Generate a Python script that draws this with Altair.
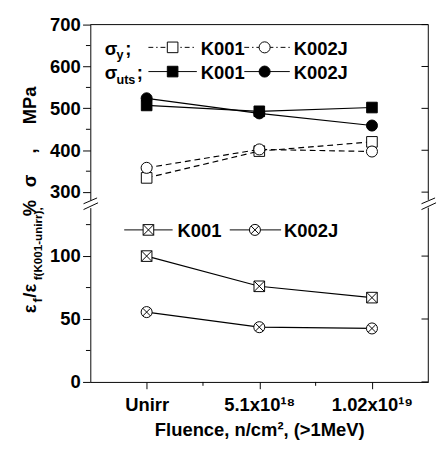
import json
import altair as alt
import pandas as pd

# ---------------- data ----------------
categories = ["Unirr", "5.1x10¹⁸", "1.02x10¹⁹"]
sy_K001 = [334, 398, 420]      # yield stress, MPa
sy_K002J = [358, 402, 397]
suts_K001 = [507, 493, 502]    # ultimate tensile stress, MPa
suts_K002J = [524, 488, 459]
el_K001 = [100, 76, 67]        # relative elongation, %
el_K002J = [55.5, 43.5, 42.5]

top_ticks = [300, 400, 500, 600, 700]
top_minor = [350, 450, 550, 650]
bot_ticks = [0, 50, 100]
bot_minor = [25, 75, 125]
x_minor = [1.5, 2.5]

# ---------------- style / layout ----------------
FONT = "Liberation Sans"
W, HT, HB = 349, 181, 180
TOP_DOM = [281.5, 700]
BOT_DOM = [0, 138.5]
X_DOM = [0.5, 3.5]
pos = list(range(1, len(categories) + 1))
one = pd.DataFrame({"a": [0]})

BOXX = "M-1,-1L1,-1L1,1L-1,1Z M-1,-1L1,1 M1,-1L-1,1"
CIRX = ("M1,0A1,1,0,1,1,-1,0A1,1,0,1,1,1,0Z "
        "M-0.707,-0.707L0.707,0.707 M0.707,-0.707L-0.707,0.707")


def df(vals):
    return pd.DataFrame({"pos": pos, "value": vals})


def txt(s, x, y, size=19, angle=None, align="left", baseline="alphabetic"):
    kw = dict(font=FONT, fontWeight="bold", fontSize=size, align=align,
              baseline=baseline, color="black")
    if angle is not None:
        kw["angle"] = angle
    return alt.Chart(one).mark_text(**kw).encode(
        x=alt.value(x), y=alt.value(y), text=alt.value(s))


def seg(x1, y1, x2, y2, dash=None, w=1):
    kw = dict(color="black", strokeWidth=w)
    if dash:
        kw["strokeDash"] = dash
    return alt.Chart(one).mark_rule(**kw).encode(
        x=alt.value(x1), y=alt.value(y1), x2=alt.value(x2), y2=alt.value(y2))


def sym(x, y, shape, fill, size=120):
    return alt.Chart(one).mark_point(
        shape=shape, size=size, filled=True, fill=fill, stroke="black",
        strokeWidth=1, opacity=1, fillOpacity=1).encode(x=alt.value(x), y=alt.value(y))


def pts(vals, x, y, shape, fill, size=120):
    return alt.Chart(df(vals)).mark_point(
        shape=shape, size=size, filled=True, fill=fill, stroke="black",
        strokeWidth=1, opacity=1, fillOpacity=1).encode(x=x, y=y)


def line(vals, x, y, dash=None):
    kw = dict(color="black", strokeWidth=1.2)
    if dash:
        kw["strokeDash"] = dash
    return alt.Chart(df(vals)).mark_line(**kw).encode(x=x, y=y)


x_noaxis = alt.X("pos:Q", scale=alt.Scale(domain=X_DOM, nice=False, zero=False), axis=None)
label_expr = json.dumps(categories, ensure_ascii=False) + "[datum.value - 1]"
x_axis = alt.X("pos:Q", scale=alt.Scale(domain=X_DOM, nice=False, zero=False),
               axis=alt.Axis(values=pos, labelExpr=label_expr, tickSize=7, labelPadding=8,
                             labelOverlap=False, labelFlush=False,
                             title="Fluence, n/cm², (>1MeV)", titlePadding=6))

y_top = alt.Y("value:Q", scale=alt.Scale(domain=TOP_DOM, nice=False, zero=False),
              axis=alt.Axis(values=top_ticks, tickSize=8, labelPadding=2.5, title=None))
y_bot = alt.Y("value:Q", scale=alt.Scale(domain=BOT_DOM, nice=False, zero=False),
              axis=alt.Axis(values=bot_ticks, tickSize=8, labelPadding=2.5, title=None))

DASH = [6, 4]
LDASH = [5, 3, 1.5, 3]

# ---------------- top panel: stresses ----------------
top_layers = [
    line(sy_K001, x_noaxis, y_top, DASH),
    line(sy_K002J, x_noaxis, y_top, DASH),
    line(suts_K001, x_noaxis, y_top),
    line(suts_K002J, x_noaxis, y_top),
    pts(sy_K001, x_noaxis, y_top, "square", "white"),
    pts(suts_K001, x_noaxis, y_top, "square", "black"),
    pts(sy_K002J, x_noaxis, y_top, "circle", "white", 130),
    pts(suts_K002J, x_noaxis, y_top, "circle", "black", 130),
    alt.Chart(pd.DataFrame({"value": top_minor})).mark_rule(color="black").encode(
        y=y_top, x=alt.value(-4.5), x2=alt.value(0)),
    alt.Chart(pd.DataFrame({"value": top_ticks})).mark_rule(color="black").encode(
        y=y_top, x=alt.value(W - 7), x2=alt.value(W)),
    seg(0, 0, W, 0),
    seg(W, 0, W, HT),
    # axis break marks
    seg(-7, HT + 4, 7, HT - 2), seg(-7, HT + 10, 8, HT + 3),
    seg(W - 7, HT + 4, W + 7, HT - 2), seg(W - 7, HT + 10, W + 8, HT + 3),
    # legend
    txt("σ", 15, 31), txt("y", 27, 36, 13), txt(";", 36, 31),
    seg(60, 23.5, 110, 23.5, LDASH), sym(85, 23.5, "square", "white"),
    txt("K001", 114, 31),
    seg(159, 23.5, 206, 23.5, LDASH), sym(180, 23.5, "circle", "white", 130),
    txt("K002J", 210, 31),
    txt("σ", 15, 56), txt("uts", 27, 61, 13), txt(";", 48, 56),
    seg(60, 48.5, 110, 48.5), sym(85, 48.5, "square", "black"),
    txt("K001", 114, 56),
    seg(159, 48.5, 206, 48.5), sym(180, 48.5, "circle", "black", 130),
    txt("K002J", 210, 56),
    # rotated y title (with subscripts)
    txt("ε", -56, 298, angle=270), txt("f", -50, 287, 13, angle=270),
    txt("/ε", -56, 282, angle=270), txt("f(K001-unirr),", -50, 264, 12, angle=270),
    txt("%", -56, 198, angle=270), txt("σ", -56, 168, angle=270),
    txt(",", -56, 133, angle=270), txt("MPa", -56, 103, angle=270),
]
top = alt.layer(*top_layers).properties(width=W, height=HT)

# ---------------- bottom panel: elongation ----------------
bot_layers = [
    line(el_K001, x_axis, y_bot),
    line(el_K002J, x_axis, y_bot),
    pts(el_K001, x_axis, y_bot, BOXX, "white", 120),
    pts(el_K002J, x_axis, y_bot, CIRX, "white", 130),
    alt.Chart(pd.DataFrame({"value": bot_minor})).mark_rule(color="black").encode(
        y=y_bot, x=alt.value(-4.5), x2=alt.value(0)),
    alt.Chart(pd.DataFrame({"value": bot_ticks})).mark_rule(color="black").encode(
        y=y_bot, x=alt.value(W - 7), x2=alt.value(W)),
    alt.Chart(pd.DataFrame({"pos": x_minor})).mark_rule(color="black").encode(
        x=x_axis, y=alt.value(HB), y2=alt.value(HB + 4)),
    seg(W, 0, W, HB),
    # legend
    seg(35, 23, 85, 23), sym(60, 23, BOXX, "white"),
    txt("K001", 90, 30),
    seg(144, 23, 197, 23), sym(170, 23, CIRX, "white", 130),
    txt("K002J", 200, 30),
]
bottom = alt.layer(*bot_layers).properties(width=W, height=HB)

chart = alt.vconcat(top, bottom, spacing=8, bounds="flush").properties(
    padding={"left": 14, "top": 1, "right": 0, "bottom": 0}
).configure_view(stroke=None).configure_axis(
    domainColor="black", tickColor="black", labelColor="black", titleColor="black",
    labelFont=FONT, titleFont=FONT, labelFontWeight="bold", titleFontWeight="bold",
    labelFontSize=19, titleFontSize=19, domainWidth=1, tickWidth=1, grid=False)

chart.save("out.html", embed_options={"renderer": "svg", "actions": False})
